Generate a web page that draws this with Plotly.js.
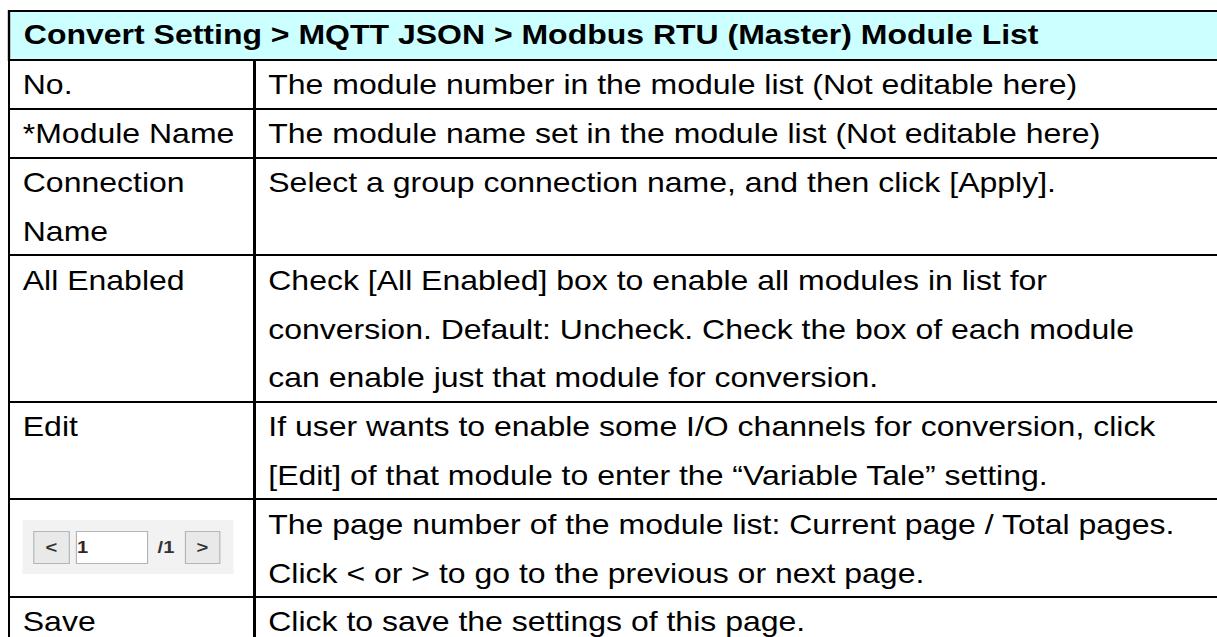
<!DOCTYPE html>
<html>
<head>
<meta charset="utf-8">
<script src="https://cdn.plot.ly/plotly-3.0.1.min.js"></script>
<style>
  html, body { margin: 0; padding: 0; overflow: hidden; background: #ffffff; }
  #wrap { width: 1217px; height: 637px; overflow: hidden; position: relative; }
  #chart { position: absolute; left: 0; top: 0; transform-origin: 0 0; }
</style>
</head>
<body>
<div id="wrap"><div id="chart"></div></div>
<script>
// ---------------- data ----------------
const tableTitle = "Convert Setting &gt; MQTT JSON &gt; Modbus RTU (Master) Module List";

const itemNames = [
  "No.",
  "*Module Name",
  "Connection<br>Name",
  "All Enabled",
  "Edit",
  "",
  "Save"
];

const itemDescriptions = [
  "The module number in the module list (Not editable here)",
  "The module name set in the module list (Not editable here)",
  "Select a group connection name, and then click [Apply].",
  "Check [All Enabled] box to enable all modules in list for<br>conversion. Default: Uncheck. Check the box of each module<br>can enable just that module for conversion.",
  "If user wants to enable some I/O channels for conversion, click<br>[Edit] of that module to enter the \u201cVariable Tale\u201d setting.",
  "The page number of the module list: Current page / Total pages.<br>Click &lt; or &gt; to go to the previous or next page.",
  "Click to save the settings of this page."
];

const pagerLabels = ["&lt;", "1", "/1", "&gt;"];

// ---------------- styling ----------------
const H = 637;
const FULLW = 1240;          // drawn width (right border falls outside the 1217 window)
const FONT = "Liberation Sans, Arial, sans-serif";
const TXT = 27;              // visible text size
const LINE = 48.8;           // line pitch of the table
const PAD = 29;              // invisible strut size (sets row height)
const INDENT = 13;           // small leading space
const ELEM = LINE / 1.3;     // text element font size -> line pitch

function lineSpan(s) {
  return '<span style="font-size:' + INDENT + 'px">\u00a0</span>' +
         '<span style="font-size:' + TXT + 'px">' + s + '</span>' +
         '<span style="font-size:' + PAD + 'px">\u00a0</span>';
}
function fmt(cell) {
  const lines = cell.split('<br>');
  let out = lines.map(lineSpan).join('<br>');
  if (lines.length === 1) out += '<br>';
  return out;
}

const chart = document.getElementById('chart');

function build(SX) {
  const WI = Math.round(FULLW / SX);
  const px = v => v / (WI * SX);       // visual x pixel -> paper
  const py = v => 1 - v / H;           // visual y pixel -> paper
  const wpx = v => v / SX;             // visual width -> inner px

  const leftEdge = 9, colDiv = 254.5, rightEdge = 1232;
  const col1 = itemNames.map(fmt);
  const col2 = itemDescriptions.map(fmt);

  const traces = [{
    type: 'table',
    domain: { x: [px(leftEdge), px(rightEdge)], y: [0, py(60)] },
    columnwidth: [colDiv - leftEdge, rightEdge - colDiv],
    header: {
      values: [col1[0], col2[0]],
      align: 'left',
      height: LINE,
      fill: { color: '#ffffff' },
      line: { color: '#000000', width: 2 },
      font: { family: FONT, size: ELEM, color: '#000000' }
    },
    cells: {
      values: [col1.slice(1), col2.slice(1)],
      align: 'left',
      height: LINE,
      fill: { color: '#ffffff' },
      line: { color: '#000000', width: 2 },
      font: { family: FONT, size: ELEM, color: '#000000' }
    }
  }];

  const shapes = [
    { type: 'rect', xref: 'paper', yref: 'paper', x0: px(leftEdge), x1: px(rightEdge), y0: py(60), y1: py(11),
      fillcolor: '#ccffff', line: { color: '#000000', width: 2 }, layer: 'below' }
  ];

  const annotations = [
    { xref: 'paper', yref: 'paper', x: px(21), y: py(35.5), xanchor: 'left', yanchor: 'middle',
      text: '<b>' + tableTitle + '</b>', showarrow: false,
      font: { family: FONT, size: TXT, color: '#000000' } },
    // pager widget background and controls
    { xref: 'paper', yref: 'paper', x: px(128.5), y: py(547), xanchor: 'center', yanchor: 'middle',
      text: ' ', showarrow: false, width: wpx(211), height: 54, bgcolor: '#f2f2f2', borderpad: 0, borderwidth: 0,
      font: { family: FONT, size: 10 } },
    { xref: 'paper', yref: 'paper', x: px(51), y: py(547.5), xanchor: 'center', yanchor: 'middle',
      text: '<b>' + pagerLabels[0] + '</b>', showarrow: false, width: wpx(34), height: 31,
      bgcolor: '#e9e9e9', bordercolor: '#b5b5b5', borderwidth: 1, borderpad: 0,
      font: { family: FONT, size: 17, color: '#333333' } },
    { xref: 'paper', yref: 'paper', x: px(112), y: py(547.5), xanchor: 'center', yanchor: 'middle',
      text: '<b>' + pagerLabels[1] + '</b>', showarrow: false, width: wpx(70), height: 31, align: 'left',
      bgcolor: '#ffffff', bordercolor: '#b5b5b5', borderwidth: 1, borderpad: 0,
      font: { family: FONT, size: 17, color: '#3a2222' } },
    { xref: 'paper', yref: 'paper', x: px(166), y: py(547.5), xanchor: 'center', yanchor: 'middle',
      text: '<b>' + pagerLabels[2] + '</b>', showarrow: false,
      font: { family: FONT, size: 17, color: '#333333' } },
    { xref: 'paper', yref: 'paper', x: px(202.5), y: py(547.5), xanchor: 'center', yanchor: 'middle',
      text: '<b>' + pagerLabels[3] + '</b>', showarrow: false, width: wpx(33), height: 31,
      bgcolor: '#e9e9e9', bordercolor: '#b5b5b5', borderwidth: 1, borderpad: 0,
      font: { family: FONT, size: 17, color: '#333333' } }
  ];

  const layout = {
    width: WI, height: H,
    margin: { l: 0, r: 0, t: 0, b: 0 },
    paper_bgcolor: 'rgba(0,0,0,0)',
    plot_bgcolor: 'rgba(0,0,0,0)',
    showlegend: false,
    shapes: shapes,
    annotations: annotations
  };
  chart.style.transform = SX === 1 ? 'none' : 'scaleX(' + SX + ')';
  return Plotly.newPlot(chart, traces, layout, { displayModeBar: false, staticPlot: true });
}

build(1.185).then(function () {
  // fallback: if the stretched rendering lost its body cells, draw unstretched
  if (chart.querySelectorAll('.cell-text').length < 14) {
    Plotly.purge(chart);
    build(1);
  }
});
</script>
</body>
</html>
